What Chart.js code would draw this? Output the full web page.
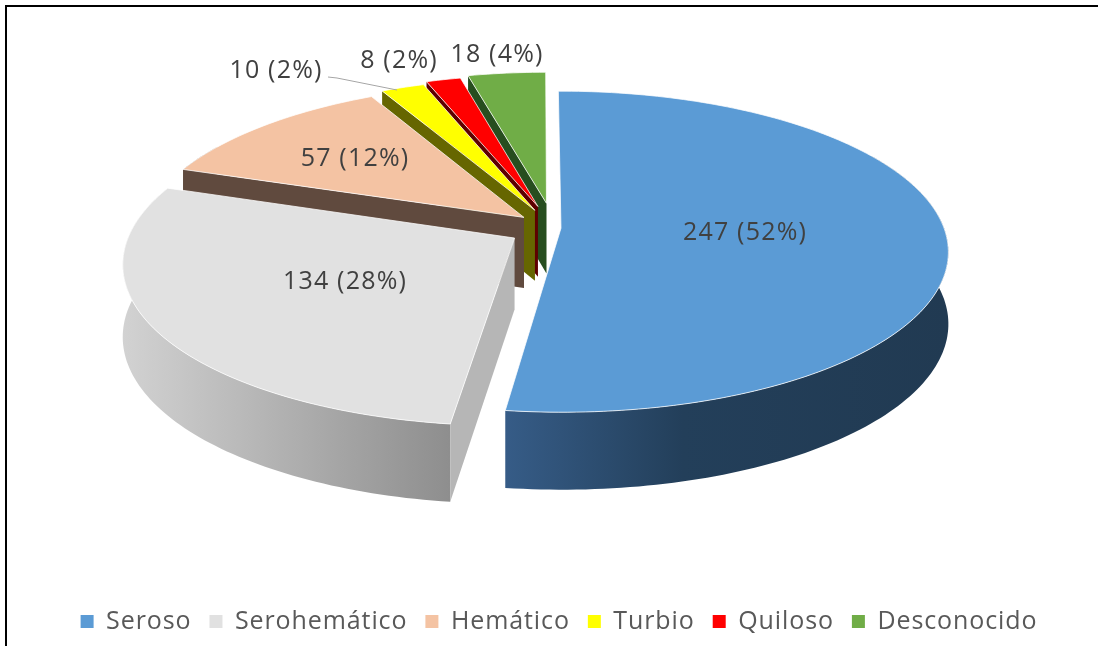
<!DOCTYPE html>
<html lang="es">
<head>
  <meta charset="utf-8">
  <title>Tipo de liquido</title>
  <style>
    html, body { margin: 0; padding: 0; background: #fff; overflow: hidden; }
    #wrap { position: relative; width: 1098px; height: 646px; }
    #frame { position: absolute; left: 5px; top: 5px; right: 0; bottom: 0; border-top: 2px solid #000; border-left: 2px solid #000; pointer-events: none; }
  </style>
</head>
<body>
  <div id="wrap">
    <canvas id="chart" width="1098" height="646"></canvas>
    <div id="frame"></div>
  </div>
  <script src="https://cdn.jsdelivr.net/npm/chart.js"></script>
  <script>
    var categories = ['Seroso', 'Serohemático', 'Hemático', 'Turbio', 'Quiloso', 'Desconocido'];
    var values = [247, 134, 57, 10, 8, 18];

    // look of the tilted pie
    var colors = ['#5b9bd5', '#e1e1e1', '#f4c3a3', '#ffff00', '#ff0000', '#70ad47'];
    var offsets = [7, 46, 40, 48, 56, 62];
    var faceColors = [null, '#b6b6b6', '#604a3e', '#666600', '#5e0000', '#274e1f'];
    var wallStops = [
      [[0, '#365c87'], [0.4, '#233f5a'], [1, '#213a52']],
      [[0, '#d2d2d2'], [1, '#8e8e8e']],
      [[0, '#604a3e'], [1, '#604a3e']],
      [[0, '#666600'], [1, '#666600']],
      [[0, '#5e0000'], [1, '#5e0000']],
      [[0, '#274e1f'], [1, '#274e1f']]
    ];
    var labelSpots = [[745, 233], [345, 282], [355, 159], [276, 71], [399, 61], [497, 55]];

    var CX = 554, CY = 228;      // where the pie axis lands on the page
    var SQUASH = 0.41, PERSP = 0.1465, DEPTH = 71;

    function project(r, u, v, z) {
      var w = 1 - PERSP * v;
      return { x: CX + r * u / w, y: CY + r * SQUASH * v / w + z / Math.pow(w, 0.55) };
    }

    function rimPoints(arc, z) {
      var r = arc.outerRadius;
      var mid = (arc.startAngle + arc.endAngle) / 2;
      var e = arc.options.offset / r;
      var pts = [];
      var steps = Math.ceil((arc.endAngle - arc.startAngle) / 0.02);
      for (var i = 0; i <= steps; i++) {
        var a = arc.startAngle + (arc.endAngle - arc.startAngle) * i / steps;
        var p = project(r, e * Math.cos(mid) + Math.cos(a), e * Math.sin(mid) + Math.sin(a), z);
        // the far back of the rim stays out of the wall, the top face could not cover it
        p.front = Math.sin(a) >= -0.5;
        pts.push(p);
      }
      return pts;
    }

    function tipPoint(arc, z) {
      var r = arc.outerRadius;
      var mid = (arc.startAngle + arc.endAngle) / 2;
      var e = arc.options.offset / r;
      return project(r, e * Math.cos(mid), e * Math.sin(mid), z);
    }

    function tracePath(ctx, pts) {
      ctx.beginPath();
      pts.forEach(function (p, i) {
        if (i === 0) ctx.moveTo(p.x, p.y); else ctx.lineTo(p.x, p.y);
      });
      ctx.closePath();
    }

    function isFront(p) {
      return p.front;
    }

    function drawSlice(ctx, arc, index) {
      var top = rimPoints(arc, 0);
      var bottom = rimPoints(arc, DEPTH);

      // outer wall, only the part turned to the viewer
      var wallTop = top.filter(isFront);
      var wallBottom = bottom.filter(isFront);
      if (wallTop.length > 1) {
        var minX = Math.min.apply(null, top.map(function (p) { return p.x; }));
        var maxX = Math.max.apply(null, top.map(function (p) { return p.x; }));
        var grad = ctx.createLinearGradient(minX, 0, maxX, 0);
        wallStops[index].forEach(function (s) { grad.addColorStop(s[0], s[1]); });
        tracePath(ctx, wallTop.concat(wallBottom.reverse()));
        ctx.fillStyle = grad;
        ctx.fill();
      }

      // cut face on the start side of the slice, the first slice hides its own
      if (faceColors[index]) {
        tracePath(ctx, [tipPoint(arc, 0), top[0], bottom[0], tipPoint(arc, DEPTH)]);
        ctx.fillStyle = faceColors[index];
        ctx.fill();
      }

      // top face
      tracePath(ctx, [tipPoint(arc, 0)].concat(top));
      ctx.fillStyle = arc.options.backgroundColor;
      ctx.fill();
      ctx.strokeStyle = 'rgba(255,255,255,0.75)';
      ctx.lineWidth = 1;
      ctx.stroke();
    }

    var tiltedPie = {
      id: 'tiltedPie',
      beforeUpdate: function (chart) {
        chart.ctx.letterSpacing = '0.9px';
      },
      beforeDatasetDraw: function (chart) {
        var ctx = chart.ctx;
        var arcs = chart.getDatasetMeta(0).data;
        ctx.save();
        for (var i = arcs.length - 1; i >= 0; i--) {
          drawSlice(ctx, arcs[i], i);
        }
        ctx.restore();
        return false;
      },
      afterDatasetsDraw: function (chart) {
        var ctx = chart.ctx;
        var total = values.reduce(function (a, b) { return a + b; }, 0);
        ctx.save();
        ctx.strokeStyle = '#a6a6a6';
        ctx.lineWidth = 1;
        ctx.beginPath();
        ctx.moveTo(328, 77);
        ctx.lineTo(337, 78);
        ctx.lineTo(397, 90);
        ctx.stroke();
        ctx.letterSpacing = '1.2px';
        ctx.font = '25px "Open Sans"';
        ctx.fillStyle = '#404040';
        ctx.textAlign = 'center';
        ctx.textBaseline = 'middle';
        values.forEach(function (v, i) {
          ctx.fillText(v + ' (' + Math.round(v / total * 100) + '%)', labelSpots[i][0], labelSpots[i][1]);
        });
        ctx.restore();
      }
    };

    var chart = new Chart(document.getElementById('chart').getContext('2d'), {
      type: 'pie',
      data: {
        labels: categories,
        datasets: [{
          data: values,
          backgroundColor: colors,
          borderWidth: 0,
          offset: offsets
        }]
      },
      options: {
        responsive: false,
        animation: false,
        events: [],
        radius: 383,
        rotation: -0.3,
        layout: { padding: { left: 20, bottom: 2 } },
        plugins: {
          tooltip: { enabled: false },
          legend: {
            position: 'bottom',
            labels: {
              boxWidth: 13,
              boxHeight: 13,
              padding: 18,
              color: '#595959',
              font: { family: '"Open Sans"', size: 25 }
            }
          }
        }
      },
      plugins: [tiltedPie]
    });
  </script>
</body>
</html>
